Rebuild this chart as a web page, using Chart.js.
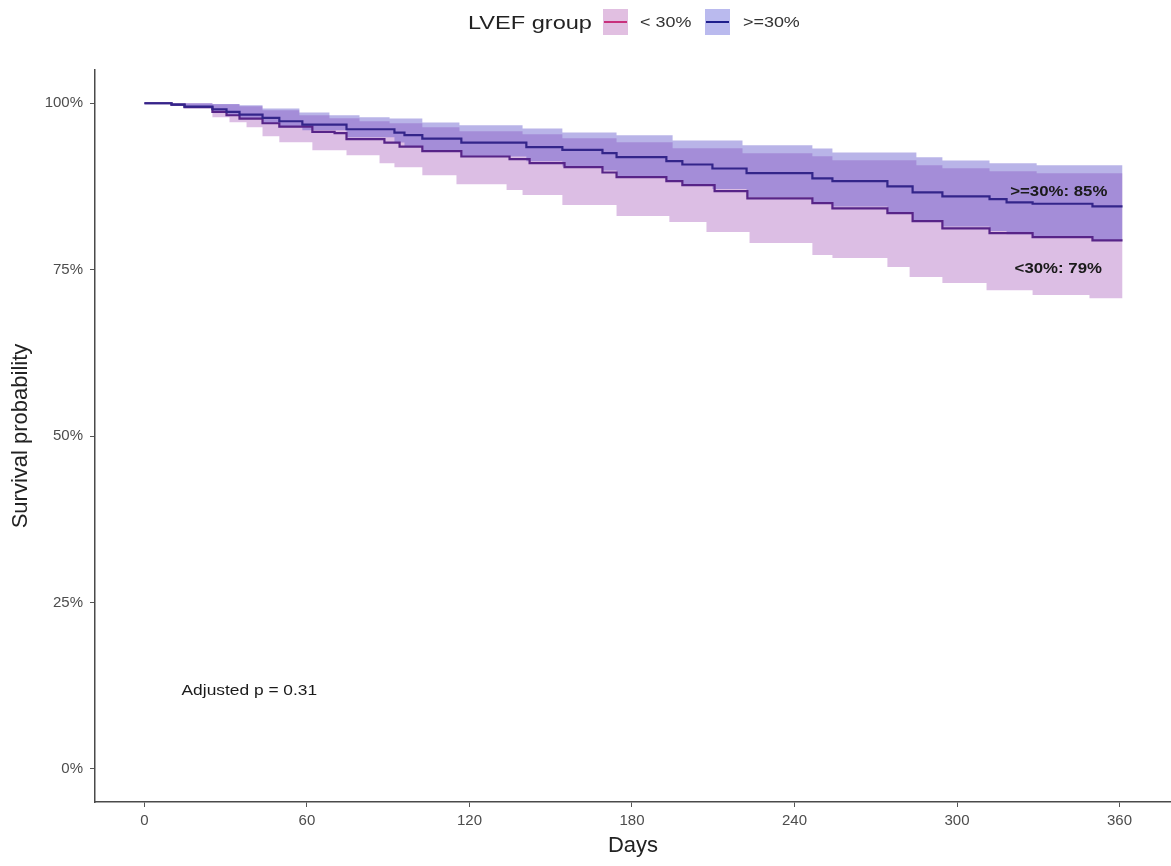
<!DOCTYPE html>
<html>
<head>
<meta charset="utf-8">
<title>Survival by LVEF group</title>
<script src="https://cdn.jsdelivr.net/npm/chart.js@4.4.1/dist/chart.umd.min.js"></script>
<style>
  body { margin: 0; background: #fff; }
  canvas { display: block; }
</style>
</head>
<body>
<canvas id="km" width="1171" height="866"></canvas>
<script>
// Kaplan-Meier estimate, LVEF >= 30%
const ge30Time = [0, 10, 14.8, 25.1, 30.3, 35.1, 43.6, 49.8, 58.3, 74.6, 92.3, 96.0, 102.6, 117.0, 141.0, 154.3,
  169.1, 174.3, 192.7, 198.6, 209.7, 222.3, 246.6, 254.0, 274.3, 283.6, 294.6, 312.0, 318.3, 327.9, 350.0, 361.1];
const ge30Surv = [100, 99.8, 99.5, 99.1, 98.7, 98.3, 97.8, 97.3, 96.8, 96.1, 95.6, 95.2, 94.7, 94.1, 93.4, 93.0,
  92.5, 91.9, 91.3, 90.8, 90.2, 89.5, 88.7, 88.3, 87.5, 86.6, 86.0, 85.6, 85.1, 84.9, 84.5, 84.5];
const ge30Lower = [100, 99.7, 99.4, 98.65, 98.2, 97.75, 97.0, 96.4, 95.95, 94.9, 94.1, 93.5, 92.9, 92.0, 91.3, 90.5,
  89.9, 89.0, 88.4, 87.8, 87.1, 85.9, 85.1, 84.5, 83.6, 82.4, 81.5, 80.8, 80.3, 80.0, 79.4, 79.4];

// upper confidence limit, LVEF >= 30%
const ge30UpperTime = [0, 25.1, 35.1, 43.6, 57.2, 68.3, 79.4, 90.5, 102.6, 116.3, 139.6, 154.3, 174.3, 195.0,
  220.8, 246.6, 254.0, 285.0, 294.6, 312.0, 329.4, 361.1];
const ge30Upper = [100, 99.9, 99.7, 99.2, 98.6, 98.2, 97.9, 97.7, 97.1, 96.7, 96.2, 95.6, 95.2, 94.4,
  93.7, 93.2, 92.6, 91.9, 91.4, 91.0, 90.7, 90.7];

// Kaplan-Meier estimate, LVEF < 30%
const lt30Time = [0, 10, 14.8, 25.1, 30.3, 35.1, 43.6, 49.8, 62.0, 70.2, 74.6, 88.6, 94.2, 102.6, 117.0, 134.8,
  142.2, 155.1, 169.1, 174.3, 192.7, 198.6, 210.5, 222.6, 246.6, 254.0, 274.3, 283.6, 294.6, 312.0, 327.9, 350.0, 361.1];
const lt30Surv = [100, 99.8, 99.4, 98.7, 98.2, 97.7, 97.0, 96.5, 95.7, 95.5, 94.6, 94.1, 93.5, 92.8, 92.0, 91.6,
  91.0, 90.4, 89.6, 88.9, 88.3, 87.7, 86.8, 85.7, 85.0, 84.2, 83.5, 82.3, 81.2, 80.5, 79.9, 79.4, 79.4];

// confidence limits, LVEF < 30%
const lt30UpperTime = ge30UpperTime;
const lt30Upper = [100, 99.85, 99.55, 98.95, 98.2, 97.75, 97.3, 97.0, 96.4, 95.8, 95.35, 94.75, 94.15, 93.25,
  92.5, 92.05, 91.45, 90.7, 90.25, 89.8, 89.5, 89.5];
const lt30LowerTime = [0, 14.8, 25.1, 31.4, 37.7, 43.6, 49.8, 62.0, 74.6, 86.8, 92.3, 102.6, 115.2, 133.7, 139.6,
  154.3, 174.3, 193.8, 207.5, 223.4, 246.6, 254.0, 274.3, 282.5, 294.6, 310.9, 327.9, 348.9, 361.1];
const lt30Lower = [100, 99.25, 97.9, 97.15, 96.4, 95.05, 94.15, 92.95, 92.2, 91.0, 90.4, 89.2, 87.85, 86.95, 86.2,
  84.7, 83.05, 82.15, 80.65, 79.0, 77.2, 76.75, 75.4, 73.9, 73.0, 71.9, 71.2, 70.7, 70.7];

const xTicks = [0, 60, 120, 180, 240, 300, 360];
const yTicks = [0, 25, 50, 75, 100];
const groupNames = ["< 30%", ">=30%"];
const endLabels = [">=30%: 85%", "<30%: 79%"];
const pText = "Adjusted p = 0.31";

const FONT = "'Liberation Sans', Arial, sans-serif";
const pinkFill = "rgba(168, 92, 188, 0.4)";
const blueFill = "rgba(80, 68, 198, 0.4)";

const pts = (xs, ys) => xs.map((t, i) => ({ x: t, y: ys[i] }));

const edge = (data, fill, bg) => ({
  data: data,
  stepped: "before",
  borderWidth: 0,
  borderColor: "transparent",
  backgroundColor: bg || "transparent",
  pointRadius: 0,
  fill: fill,
});

// text a little wider than the font, like the source image
function wideText(ctx, text, x, y, align, sx) {
  ctx.save();
  ctx.translate(x, y);
  ctx.scale(sx, 1);
  ctx.textAlign = align;
  ctx.fillText(text, 0, 0);
  ctx.restore();
}

// labels inside the plot + legend on top
const extras = {
  id: "extras",
  afterDraw(chart) {
    const ctx = chart.ctx;
    const x = chart.scales.x, y = chart.scales.y;
    ctx.save();
    ctx.fillStyle = "#1a1a1a";
    ctx.textBaseline = "middle";
    ctx.font = "bold 14px " + FONT;
    wideText(ctx, endLabels[0], x.getPixelForValue(355.5), y.getPixelForValue(86.6), "right", 1.2);
    wideText(ctx, endLabels[1], x.getPixelForValue(353.5), y.getPixelForValue(75), "right", 1.2);
    ctx.font = "14px " + FONT;
    wideText(ctx, pText, x.getPixelForValue(13.7), y.getPixelForValue(11.6), "left", 1.24);

    // legend
    ctx.font = "19px " + FONT;
    ctx.fillStyle = "#222";
    wideText(ctx, "LVEF group", 468, 24, "left", 1.24);
    const keys = [
      { x: 603, fill: "#e1bfe1", line: "#c8307c", text: groupNames[0], tx: 640 },
      { x: 705, fill: "#babaee", line: "#1e1e8c", text: groupNames[1], tx: 743 },
    ];
    keys.forEach(k => {
      ctx.fillStyle = k.fill;
      ctx.fillRect(k.x, 9, 25, 26);
      ctx.strokeStyle = k.line;
      ctx.lineWidth = 2;
      ctx.beginPath();
      ctx.moveTo(k.x + 1, 22);
      ctx.lineTo(k.x + 24, 22);
      ctx.stroke();
      ctx.fillStyle = "#333";
      ctx.font = "14px " + FONT;
      wideText(ctx, k.text, k.tx, 23, "left", 1.28);
    });
    ctx.restore();
  },
};

new Chart(document.getElementById("km"), {
  type: "line",
  data: {
    datasets: [
      {
        label: groupNames[1],
        data: pts(ge30Time, ge30Surv),
        stepped: "before",
        borderColor: "#33258a",
        borderWidth: 2.2,
        pointRadius: 0,
        fill: false,
      },
      {
        label: groupNames[0],
        data: pts(lt30Time, lt30Surv),
        stepped: "before",
        borderColor: "#572488",
        borderWidth: 2.2,
        pointRadius: 0,
        fill: false,
      },
      edge(pts(ge30UpperTime, ge30Upper), "+1", blueFill),
      edge(pts(ge30Time, ge30Lower), false),
      edge(pts(lt30UpperTime, lt30Upper), "+1", pinkFill),
      edge(pts(lt30LowerTime, lt30Lower), false),
    ],
  },
  options: {
    responsive: false,
    animation: false,
    layout: { padding: { top: 70, left: 0, right: 0, bottom: 0 } },
    plugins: {
      legend: { display: false },
      tooltip: { enabled: false },
    },
    scales: {
      x: {
        type: "linear",
        min: -18.25,
        max: 379,
        afterBuildTicks: (s) => { s.ticks = xTicks.map(v => ({ value: v })); },
        afterFit: (s) => { s.height = 64; },
        grid: { drawOnChartArea: false, drawTicks: true, tickLength: 5, color: "#555" },
        border: { display: true, color: "#4a4a4a", width: 1.5 },
        ticks: { color: "#4d4d4d", font: { family: FONT, size: 15 }, padding: 5, maxRotation: 0 },
        title: { display: true, text: "Days", color: "#222", font: { family: FONT, size: 22 }, padding: { bottom: 7 } },
      },
      y: {
        min: -5,
        max: 105,
        afterBuildTicks: (s) => { s.ticks = yTicks.map(v => ({ value: v })); },
        afterFit: (s) => { s.width = 95; },
        grid: { drawOnChartArea: false, drawTicks: true, tickLength: 5, color: "#555" },
        border: { display: true, color: "#4a4a4a", width: 1.5 },
        ticks: { color: "#4d4d4d", font: { family: FONT, size: 15 }, padding: 7, callback: (v) => v + "%" },
        title: { display: true, text: "Survival probability", color: "#222", font: { family: FONT, size: 22 }, padding: { top: 8 } },
      },
    },
  },
  plugins: [extras],
});
</script>
</body>
</html>
